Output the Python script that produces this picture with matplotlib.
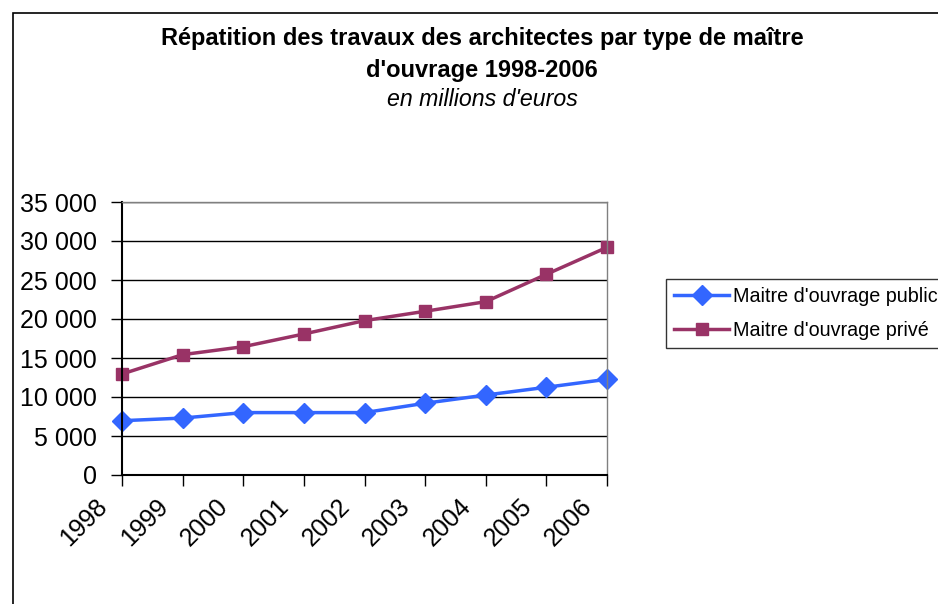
import matplotlib
matplotlib.use('Agg')
import matplotlib.pyplot as plt
from matplotlib.patches import Rectangle
from matplotlib.ticker import FuncFormatter
from matplotlib.transforms import ScaledTranslation

plt.rcParams['font.family'] = ['Liberation Sans', 'DejaVu Sans']

years = ['1998', '1999', '2000', '2001', '2002', '2003', '2004', '2005', '2006']
public = [6960, 7300, 8000, 8000, 8000, 9200, 10250, 11250, 12270]
private = [12950, 15430, 16450, 18080, 19790, 20990, 22220, 25730, 29190]

W, H = 938, 604
fig = plt.figure(figsize=(W / 100, H / 100), dpi=100)
fig.patch.set_facecolor('white')

# chart border (runs off the right and bottom edges)
fig.patches.append(Rectangle((13 / W, -0.1), 1.2, 1 - 13 / H + 0.1,
                             transform=fig.transFigure, fill=False,
                             edgecolor='black', linewidth=1.2))

ax = fig.add_axes([122 / W, 1 - 475 / H, (607 - 122) / W, (475 - 202) / H])
x = list(range(len(years)))
ax.plot(x, public, color='#3366FF', linewidth=2.5, marker='D', markersize=10,
        label="Maitre d'ouvrage public", clip_on=False)
ax.plot(x, private, color='#993366', linewidth=2.5, marker='s', markersize=8,
        label="Maitre d'ouvrage privé", clip_on=False)

ax.set_xlim(0, len(years) - 1)
ax.set_ylim(0, 35000)
ax.set_yticks(range(0, 35001, 5000))
ax.yaxis.set_major_formatter(FuncFormatter(lambda v, p: f'{int(v):,}'.replace(',', ' ')))
ax.set_xticks(x)
ax.set_xticklabels(years, rotation=45, ha='right', rotation_mode='anchor')
ax.tick_params(axis='both', direction='out', length=8, width=1, labelsize=18, colors='black')
ax.tick_params(axis='y', pad=10)
ax.tick_params(axis='x', pad=3)
# Excel puts the rotated year labels a bit left of and below the ticks
shift = ScaledTranslation(-0.27, -0.04, fig.dpi_scale_trans)
for lbl in ax.get_xticklabels():
    lbl.set_transform(lbl.get_transform() + shift)
ax.grid(True, axis='y', color='black', linewidth=1)
ax.set_axisbelow(True)
for s in ['left', 'bottom']:
    ax.spines[s].set_linewidth(1.5)
for s in ['top', 'right']:
    ax.spines[s].set_color('#808080')
    ax.spines[s].set_linewidth(1)

leg = ax.legend(loc='upper left', bbox_to_anchor=(666 / W, 1 - 279 / H),
                bbox_transform=fig.transFigure, fontsize=14.2, frameon=True,
                fancybox=False, edgecolor='black', borderaxespad=0,
                handlelength=2.8, handletextpad=0.2, borderpad=0.4,
                labelspacing=0.75)
leg.get_frame().set_linewidth(1)

fig.text(482 / W, 1 - 38 / H, "Répatition des travaux des architectes par type de maître",
         ha='center', va='center', fontsize=17, fontweight='bold')
fig.text(482 / W, 1 - 70 / H, "d'ouvrage 1998-2006",
         ha='center', va='center', fontsize=17, fontweight='bold')
fig.text(482 / W, 1 - 100 / H, "en millions d'euros",
         ha='center', va='center', fontsize=16.7, style='italic')

fig.savefig('out.png', dpi=100)
plt.close(fig)
